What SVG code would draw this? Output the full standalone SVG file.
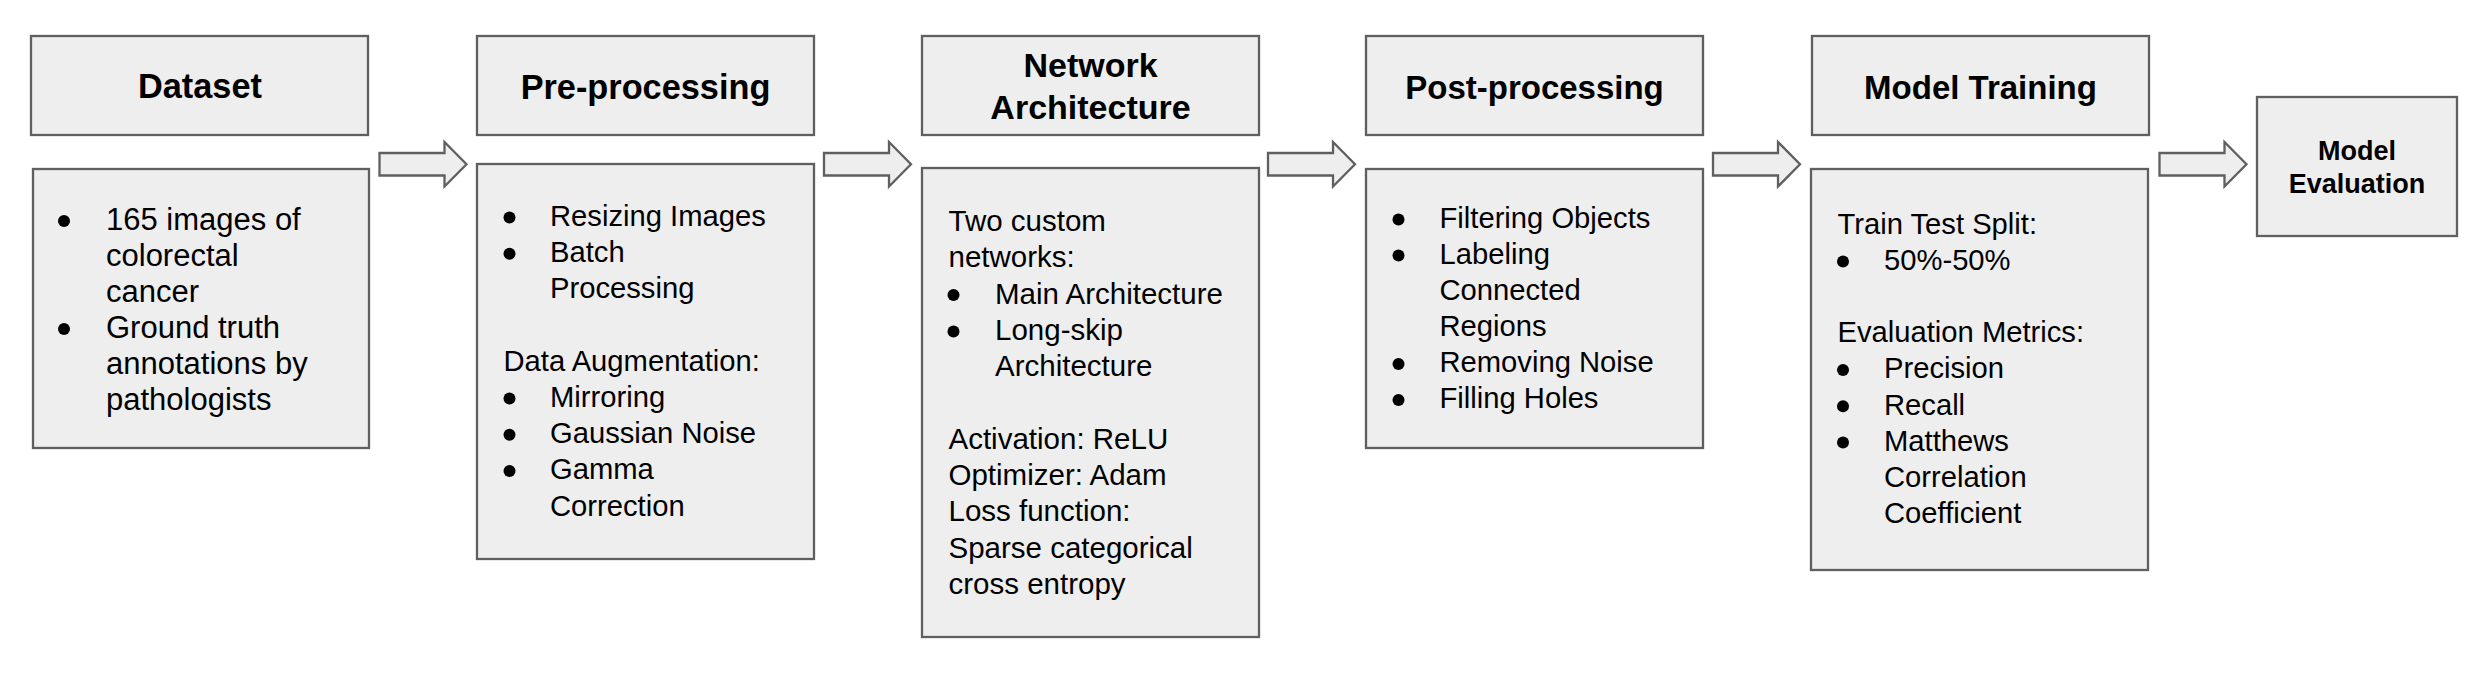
<svg xmlns="http://www.w3.org/2000/svg" width="2488" height="680" viewBox="0 0 2488 680">
<style>
.box{fill:#eeeeee;stroke:#5f5f5f;stroke-width:2.3}
.arrow{fill:#eeeeee;stroke:#5f5f5f;stroke-width:2.3;stroke-linejoin:miter}
.title{font-family:"Liberation Sans",Arial,sans-serif;font-weight:bold;font-size:33px;fill:#000;text-anchor:middle}
.body{font-family:"Liberation Sans",Arial,sans-serif;font-size:29.2px;fill:#000}
.body31{font-family:"Liberation Sans",Arial,sans-serif;font-size:31px;fill:#000}
.dot{fill:#000}
</style>
<rect width="2488" height="680" fill="#ffffff"/>

<g id="connectors">
<polygon class="arrow" points="379.5,153 444.5,153 444.5,142 466.5,164.3 444.5,186.5 444.5,175.5 379.5,175.5"/>
<polygon class="arrow" points="824,153 889,153 889,142 911,164.3 889,186.5 889,175.5 824,175.5"/>
<polygon class="arrow" points="1268,153 1333,153 1333,142 1355,164.3 1333,186.5 1333,175.5 1268,175.5"/>
<polygon class="arrow" points="1713,153 1778,153 1778,142 1800,164.3 1778,186.5 1778,175.5 1713,175.5"/>
<polygon class="arrow" points="2159.5,153 2224.5,153 2224.5,142 2246.5,164.3 2224.5,186.5 2224.5,175.5 2159.5,175.5"/>
</g>

<g id="dataset">
<rect class="box" x="31" y="36" width="337" height="99"/>
<text class="title" style="font-size:34.3px" x="200" y="97.5">Dataset</text>
</g>
<g id="dataset-details">
<rect class="box" x="33" y="169" width="336" height="279"/>
<circle class="dot" cx="64" cy="221" r="6"/>
<circle class="dot" cx="64" cy="329" r="6"/>
<text class="body31"><tspan x="106" y="229.5">165 images of</tspan><tspan x="106" y="265.5">colorectal</tspan><tspan x="106" y="301.5">cancer</tspan><tspan x="106" y="337.5">Ground truth</tspan><tspan x="106" y="373.5">annotations by</tspan><tspan x="106" y="409.5">pathologists</tspan></text>
</g>

<g id="preprocessing">
<rect class="box" x="477" y="36" width="337" height="99"/>
<text class="title" style="font-size:34.3px" x="645.5" y="98.5">Pre-processing</text>
</g>
<g id="preprocessing-details">
<rect class="box" x="477" y="164" width="337" height="395"/>
<circle class="dot" cx="509.5" cy="217.5" r="6"/>
<circle class="dot" cx="509.5" cy="253.7" r="6"/>
<circle class="dot" cx="509.5" cy="398.5" r="6"/>
<circle class="dot" cx="509.5" cy="434.7" r="6"/>
<circle class="dot" cx="509.5" cy="470.9" r="6"/>
<text class="body"><tspan x="550" y="226">Resizing Images</tspan><tspan x="550" y="262.2">Batch</tspan><tspan x="550" y="298.4">Processing</tspan><tspan x="503.5" y="370.8">Data Augmentation:</tspan><tspan x="550" y="407">Mirroring</tspan><tspan x="550" y="443.2">Gaussian Noise</tspan><tspan x="550" y="479.4">Gamma</tspan><tspan x="550" y="515.6">Correction</tspan></text>
</g>

<g id="network-architecture">
<rect class="box" x="922" y="36" width="337" height="99"/>
<text class="title" style="font-size:34px"><tspan x="1090.5" y="77">Network</tspan><tspan x="1090.5" y="119">Architecture</tspan></text>
</g>
<g id="network-architecture-details">
<rect class="box" x="922" y="168" width="337" height="469"/>
<circle class="dot" cx="953.5" cy="295.1" r="6"/>
<circle class="dot" cx="953.5" cy="331.4" r="6"/>
<text class="body" style="font-size:29.5px"><tspan x="948.5" y="231">Two custom</tspan><tspan x="948.5" y="267.3">networks:</tspan><tspan x="995" y="303.6">Main Architecture</tspan><tspan x="995" y="339.9">Long-skip</tspan><tspan x="995" y="376.2">Architecture</tspan><tspan x="948.5" y="448.8">Activation: ReLU</tspan><tspan x="948.5" y="485.1">Optimizer: Adam</tspan><tspan x="948.5" y="521.4">Loss function:</tspan><tspan x="948.5" y="557.7">Sparse categorical</tspan><tspan x="948.5" y="594">cross entropy</tspan></text>
</g>

<g id="postprocessing">
<rect class="box" x="1366" y="36" width="337" height="99"/>
<text class="title" x="1534.5" y="98.5">Post-processing</text>
</g>
<g id="postprocessing-details">
<rect class="box" x="1366" y="169" width="337" height="279"/>
<circle class="dot" cx="1398.5" cy="219.5" r="6"/>
<circle class="dot" cx="1398.5" cy="255.6" r="6"/>
<circle class="dot" cx="1398.5" cy="363.9" r="6"/>
<circle class="dot" cx="1398.5" cy="400" r="6"/>
<text class="body"><tspan x="1439.5" y="227.7">Filtering Objects</tspan><tspan x="1439.5" y="263.8">Labeling</tspan><tspan x="1439.5" y="299.9">Connected</tspan><tspan x="1439.5" y="336">Regions</tspan><tspan x="1439.5" y="372.1">Removing Noise</tspan><tspan x="1439.5" y="408.2">Filling Holes</tspan></text>
</g>

<g id="model-training">
<rect class="box" x="1812" y="36" width="337" height="99"/>
<text class="title" x="1980.5" y="98.7">Model Training</text>
</g>
<g id="model-training-details">
<rect class="box" x="1811" y="169" width="337" height="401"/>
<circle class="dot" cx="1843" cy="261.5" r="6"/>
<circle class="dot" cx="1843" cy="370.1" r="6"/>
<circle class="dot" cx="1843" cy="406.3" r="6"/>
<circle class="dot" cx="1843" cy="442.5" r="6"/>
<text class="body"><tspan x="1837.5" y="233.5">Train Test Split:</tspan><tspan x="1884" y="269.7">50%-50%</tspan><tspan x="1837.5" y="342.1">Evaluation Metrics:</tspan><tspan x="1884" y="378.3">Precision</tspan><tspan x="1884" y="414.5">Recall</tspan><tspan x="1884" y="450.7">Matthews</tspan><tspan x="1884" y="486.9">Correlation</tspan><tspan x="1884" y="523.1">Coefficient</tspan></text>
</g>

<g id="model-evaluation">
<rect class="box" x="2257" y="97" width="200" height="139"/>
<text class="title" style="font-size:27px"><tspan x="2357" y="160">Model</tspan><tspan x="2357" y="192.7">Evaluation</tspan></text>
</g>
</svg>
